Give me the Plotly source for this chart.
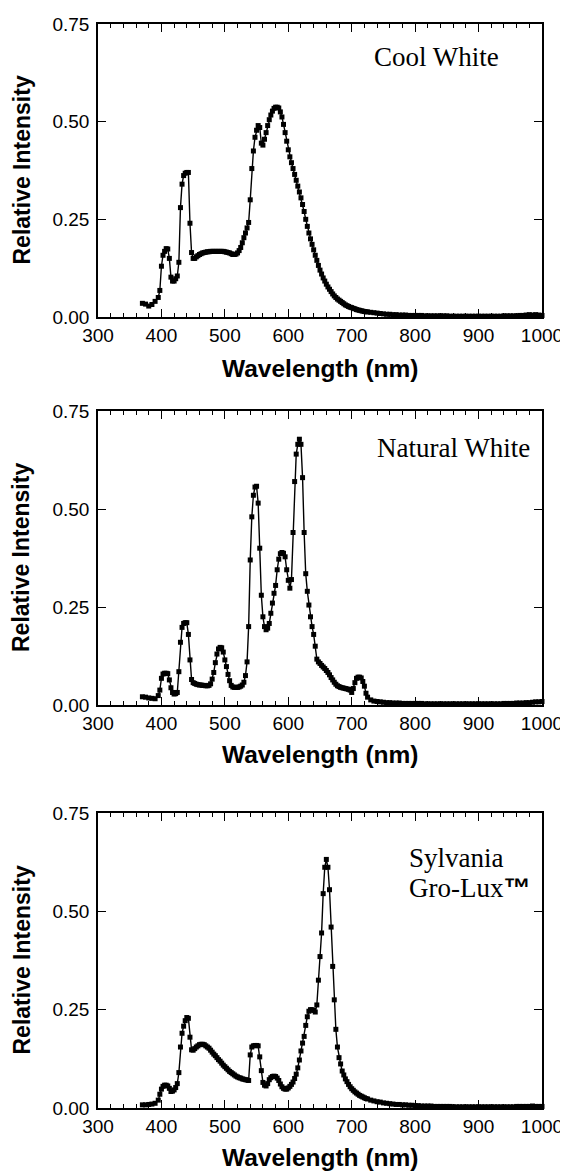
import plotly.graph_objects as go
from plotly.subplots import make_subplots

wavelength = [370, 375, 380, 385, 390,
              395, 397.5, 400, 402.5, 405, 407.5, 410, 412.5, 415, 417.5, 420, 422.5,
              425, 427.5, 430, 432.5, 435, 437.5, 440, 442.5, 445, 447.5, 450, 452.5,
              455, 457.5, 460, 462.5, 465, 467.5, 470, 472.5, 475, 477.5, 480, 482.5,
              485, 487.5, 490, 492.5, 495, 497.5, 500, 502.5, 505, 507.5, 510, 512.5,
              515, 517.5, 520, 522.5, 525, 527.5, 530, 532.5, 535, 537.5, 540, 542.5,
              545, 547.5, 550, 552.5, 555, 557.5, 560, 562.5, 565, 567.5, 570, 572.5,
              575, 577.5, 580, 582.5, 585, 587.5, 590, 592.5, 595, 597.5, 600, 602.5,
              605, 607.5, 610, 612.5, 615, 617.5, 620, 622.5, 625, 627.5, 630, 632.5,
              635, 637.5, 640, 642.5, 645, 647.5, 650, 652.5, 655, 657.5, 660, 662.5,
              665, 667.5, 670, 672.5, 675, 677.5, 680, 682.5, 685, 687.5, 690, 692.5,
              695, 697.5, 700, 702.5, 705, 707.5, 710, 712.5, 715, 717.5, 720, 722.5,
              725,
              730, 735, 740, 745, 750, 755, 760, 765, 770, 775, 780, 785, 790, 795,
              800, 805, 810, 815, 820, 825, 830, 835, 840, 845,
              850, 855, 860, 865, 870, 875, 880, 885, 890, 895,
              900, 905, 910, 915, 920, 925, 930, 935, 940, 945,
              950, 955, 960, 965, 970, 975, 980, 985, 990, 995, 1000]

cool_white = [0.035, 0.033, 0.028, 0.032, 0.040,
              0.050, 0.068, 0.130, 0.158, 0.168, 0.175, 0.174, 0.150, 0.102, 0.092, 0.092, 0.098,
              0.105, 0.140, 0.280, 0.340, 0.362, 0.368, 0.370, 0.370, 0.240, 0.165, 0.150, 0.150,
              0.154, 0.157, 0.160, 0.162, 0.164, 0.165, 0.166, 0.167, 0.167, 0.168, 0.168, 0.168,
              0.168, 0.168, 0.168, 0.168, 0.168, 0.168, 0.167, 0.166, 0.165, 0.164, 0.162, 0.160,
              0.160, 0.161, 0.164, 0.170, 0.178, 0.190, 0.203, 0.215, 0.228, 0.242, 0.300, 0.380,
              0.425, 0.460, 0.478, 0.490, 0.485, 0.445, 0.440, 0.455, 0.472, 0.490, 0.505, 0.517,
              0.527, 0.534, 0.537, 0.537, 0.535, 0.525, 0.512, 0.493, 0.472, 0.450, 0.428, 0.410,
              0.395, 0.380, 0.365, 0.350, 0.335, 0.320, 0.305, 0.288, 0.270, 0.250, 0.232, 0.215,
              0.200, 0.186, 0.172, 0.158, 0.145, 0.132, 0.120, 0.110, 0.100, 0.092, 0.084, 0.077,
              0.071, 0.065, 0.059, 0.054, 0.050, 0.046, 0.043, 0.040, 0.037, 0.034, 0.031, 0.029,
              0.027, 0.025, 0.024, 0.022, 0.021, 0.019, 0.018, 0.017, 0.016, 0.015, 0.014, 0.0135,
              0.013,
              0.012, 0.011, 0.010, 0.009, 0.008, 0.007, 0.007, 0.006, 0.006, 0.005, 0.005, 0.005, 0.004, 0.004,
              0.004, 0.004, 0.004, 0.003, 0.003, 0.003, 0.003, 0.003, 0.003, 0.003,
              0.003, 0.002, 0.002, 0.002, 0.002, 0.002, 0.002, 0.002, 0.002, 0.002,
              0.002, 0.002, 0.002, 0.002, 0.002, 0.002, 0.002, 0.002, 0.003, 0.003,
              0.003, 0.003, 0.003, 0.004, 0.004, 0.005, 0.006, 0.005, 0.006, 0.005, 0.004]

natural_white = [0.021, 0.020, 0.018, 0.017, 0.016,
                 0.024, 0.038, 0.068, 0.079, 0.081, 0.081, 0.080, 0.064, 0.044, 0.032, 0.028, 0.029,
                 0.032, 0.085, 0.160, 0.198, 0.208, 0.210, 0.210, 0.180, 0.115, 0.065, 0.057, 0.055,
                 0.053, 0.052, 0.051, 0.051, 0.050, 0.050, 0.049, 0.049, 0.050, 0.054, 0.066, 0.083,
                 0.108, 0.130, 0.143, 0.147, 0.146, 0.135, 0.115, 0.098, 0.078, 0.062, 0.050, 0.046,
                 0.045, 0.045, 0.045, 0.046, 0.048, 0.051, 0.058, 0.075, 0.110, 0.200, 0.370, 0.480,
                 0.535, 0.556, 0.558, 0.515, 0.400, 0.280, 0.225, 0.200, 0.192, 0.196, 0.208, 0.234,
                 0.260, 0.285, 0.305, 0.345, 0.372, 0.386, 0.389, 0.387, 0.378, 0.345, 0.318, 0.298,
                 0.320, 0.440, 0.570, 0.640, 0.665, 0.678, 0.665, 0.580, 0.440, 0.335, 0.290, 0.255,
                 0.225, 0.200, 0.180, 0.150, 0.117, 0.110, 0.106, 0.101, 0.097, 0.093, 0.088, 0.083,
                 0.077, 0.070, 0.064, 0.058, 0.053, 0.049, 0.047, 0.045, 0.044, 0.043, 0.042, 0.041,
                 0.040, 0.038, 0.032, 0.042, 0.057, 0.068, 0.071, 0.071, 0.069, 0.060, 0.048, 0.030,
                 0.020,
                 0.013, 0.010, 0.009, 0.008, 0.007, 0.006, 0.006, 0.005, 0.005, 0.005, 0.004, 0.004, 0.004, 0.004,
                 0.004, 0.004, 0.004, 0.003, 0.003, 0.003, 0.003, 0.003, 0.003, 0.003,
                 0.003, 0.003, 0.003, 0.003, 0.003, 0.003, 0.003, 0.003, 0.003, 0.003,
                 0.003, 0.003, 0.003, 0.003, 0.003, 0.003, 0.003, 0.003, 0.004, 0.004,
                 0.004, 0.004, 0.005, 0.005, 0.005, 0.006, 0.006, 0.007, 0.008, 0.008, 0.009]

gro_lux = [0.008, 0.008, 0.009, 0.010, 0.012,
           0.020, 0.035, 0.048, 0.055, 0.058, 0.058, 0.056, 0.050, 0.042, 0.043, 0.046, 0.052,
           0.062, 0.090, 0.155, 0.190, 0.208, 0.222, 0.230, 0.228, 0.180, 0.148, 0.147, 0.151,
           0.155, 0.158, 0.161, 0.162, 0.162, 0.161, 0.158, 0.155, 0.152, 0.147, 0.142, 0.137,
           0.133, 0.128, 0.123, 0.119, 0.114, 0.109, 0.105, 0.101, 0.097, 0.093, 0.090, 0.087,
           0.084, 0.081, 0.079, 0.077, 0.076, 0.074, 0.073, 0.072, 0.071, 0.070, 0.135, 0.155,
           0.158, 0.159, 0.159, 0.158, 0.130, 0.095, 0.065, 0.058, 0.056, 0.062, 0.072, 0.077,
           0.080, 0.081, 0.080, 0.076, 0.070, 0.061, 0.054, 0.050, 0.048, 0.048, 0.051, 0.055,
           0.060, 0.066, 0.075, 0.086, 0.102, 0.122, 0.145, 0.165, 0.182, 0.210, 0.232, 0.246,
           0.250, 0.250, 0.248, 0.244, 0.262, 0.325, 0.385, 0.445, 0.545, 0.612, 0.632, 0.612,
           0.555, 0.460, 0.360, 0.275, 0.200, 0.155, 0.128, 0.112, 0.094, 0.084, 0.074, 0.067,
           0.060, 0.054, 0.049, 0.045, 0.041, 0.038, 0.035, 0.032, 0.030, 0.028, 0.026, 0.024,
           0.023,
           0.020, 0.018, 0.016, 0.015, 0.013, 0.012, 0.011, 0.010, 0.009, 0.009, 0.008, 0.008, 0.007, 0.007,
           0.006, 0.006, 0.005, 0.005, 0.005, 0.005, 0.004, 0.004, 0.004, 0.004,
           0.004, 0.004, 0.003, 0.003, 0.003, 0.003, 0.003, 0.003, 0.003, 0.003,
           0.003, 0.003, 0.003, 0.003, 0.003, 0.003, 0.003, 0.003, 0.003, 0.003,
           0.003, 0.003, 0.004, 0.004, 0.004, 0.004, 0.004, 0.005, 0.004, 0.004, 0.004]

series = [cool_white, natural_white, gro_lux]
for s in series:
    assert len(s) == len(wavelength), (len(s), len(wavelength))

x_ticks = [300, 400, 500, 600, 700, 800, 900, 1000]
y_ticks = [0.00, 0.25, 0.50, 0.75]
x_title = "Wavelength (nm)"
y_title = "Relative Intensity"

# page body adds an 8px offset; layout numbers below are in reference-page pixels
OFF = 8
W, H = 568 - OFF, 1171 - OFF
L, T = 98 - OFF, 24 - OFF
R = W - (542 - OFF)
B = H - (1108 - OFF)
PW, PH = W - L - R, H - T - B


def px(xp):
    return (xp - OFF - L) / PW


def py(yp):
    return (H - B - (yp - OFF)) / PH


panels = [(24, 317), (411, 705), (813, 1108)]

fig = make_subplots(rows=3, cols=1)

SANS = "Liberation Sans, Arial, sans-serif"
SERIF = "Liberation Serif, Times New Roman, serif"

for i, s in enumerate(series):
    fig.add_trace(go.Scatter(
        x=wavelength, y=s, mode="lines+markers",
        line=dict(color="black", width=1.4),
        marker=dict(symbol="square", size=5, color="black"),
        showlegend=False, cliponaxis=False), row=i + 1, col=1)

for i, (top, bot) in enumerate(panels):
    n = "" if i == 0 else str(i + 1)
    fig.layout["xaxis" + n].update(
        domain=[0, 1], range=[300, 1000], tickvals=x_ticks,
        ticks="inside", ticklen=8, tickwidth=1.3, tickcolor="black",
        minor=dict(dtick=20, tick0=300, ticks="inside", ticklen=4, tickwidth=1, tickcolor="black"),
        showline=True, linewidth=1.6, linecolor="black", mirror="ticks",
        showgrid=False, zeroline=False,
        tickfont=dict(family=SANS, size=19, color="black"), ticklabelstandoff=0)
    fig.layout["yaxis" + n].update(
        domain=[py(bot), py(top)], range=[0, 0.75], tickvals=y_ticks, tickformat=".2f",
        ticks="inside", ticklen=8, tickwidth=1.3, tickcolor="black",
        showline=True, linewidth=1.6, linecolor="black", mirror="ticks",
        showgrid=False, zeroline=False,
        tickfont=dict(family=SANS, size=19, color="black"), ticklabelstandoff=3)

annotations = []
x_title_y = [368, 754, 1157]
for i, (top, bot) in enumerate(panels):
    annotations.append(dict(x=px(320), y=py(x_title_y[i]), xref="paper", yref="paper",
                            text="<b>" + x_title + "</b>", showarrow=False,
                            xanchor="center", yanchor="middle",
                            font=dict(family=SANS, size=24.5, color="black")))
    annotations.append(dict(x=px(21), y=py((top + bot) / 2), xref="paper", yref="paper",
                            text="<b>" + y_title + "</b>", showarrow=False, textangle=-90,
                            xanchor="center", yanchor="middle",
                            font=dict(family=SANS, size=23, color="black")))

labels = [
    ("Cool White", 372, 57),
    ("Natural White", 375, 448),
    ("Sylvania", 407, 858),
    ("Gro-Lux<span style='font-family:Liberation Sans'><b>™</b></span>", 407, 888),
]
for text, xp, yp in labels:
    annotations.append(dict(x=px(xp), y=py(yp), xref="paper", yref="paper", text=text,
                            showarrow=False, xanchor="left", yanchor="middle",
                            font=dict(family=SERIF, size=27, color="black")))

fig.update_layout(
    width=W, height=H, margin=dict(l=L, r=R, t=T, b=B, autoexpand=False),
    paper_bgcolor="white", plot_bgcolor="white",
    annotations=annotations, showlegend=False)

fig.write_html("out.html")
